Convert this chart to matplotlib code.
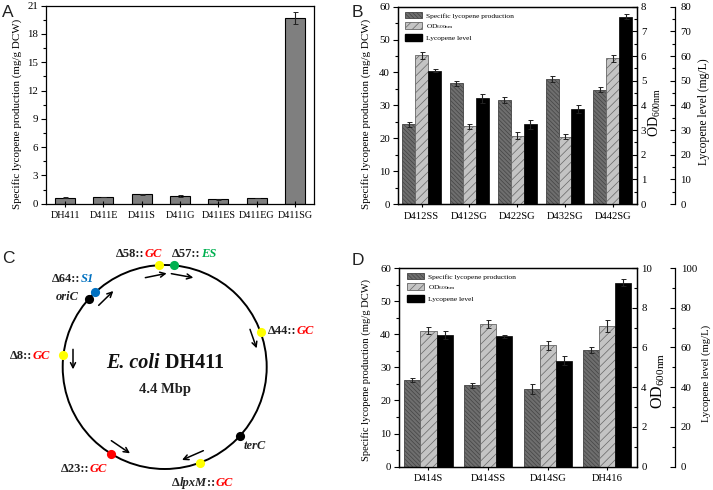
import numpy as np
import matplotlib
matplotlib.use('Agg')
import matplotlib.pyplot as plt
from matplotlib.patches import Patch, Circle
from matplotlib.ticker import MultipleLocator

plt.rcParams['font.family'] = ['Liberation Serif', 'DejaVu Serif']
plt.rcParams['mathtext.default'] = 'regular'
plt.rcParams['hatch.linewidth'] = 0.5

W, H = 713, 490

# panel A
a_names = ['DH411', 'D411E', 'D411S', 'D411G', 'D411ES', 'D411EG', 'D411SG']
a_spec = [0.65, 0.7, 1.0, 0.8, 0.45, 0.6, 19.7]
a_err = [0.08, 0.04, 0.05, 0.1, 0.04, 0.04, 0.65]

# panel B
b_names = ['D412SS', 'D412SG', 'D422SG', 'D432SG', 'D442SG']
b_spec = [24.2, 36.7, 31.7, 38.0, 34.8]
b_spec_err = [0.8, 0.7, 0.9, 1.0, 0.8]
b_od = [6.03, 3.15, 2.77, 2.73, 5.9]
b_od_err = [0.15, 0.09, 0.15, 0.1, 0.15]
b_lyc = [54.0, 42.8, 32.3, 38.5, 76.0]
b_lyc_err = [0.6, 1.8, 1.9, 1.6, 1.1]

# panel D
d_names = ['D414S', 'D414SS', 'D414SG', 'DH416']
d_spec = [26.2, 24.6, 23.6, 35.3]
d_spec_err = [0.5, 0.8, 1.5, 0.9]
d_od = [6.85, 7.2, 6.1, 7.1]
d_od_err = [0.17, 0.2, 0.22, 0.3]
d_lyc = [66.3, 65.7, 53.3, 92.5]
d_lyc_err = [2.2, 0.8, 2.2, 1.8]

# panel C
genome_sites = [('yellow', -3), ('#00b050', 5), ('black', -48), ('#0070c0', -43),
                ('yellow', -83), ('red', -148), ('yellow', 159.5), ('black', 132.6),
                ('yellow', 70)]
site_labels = [(116, 257, [('\u039458::', 'k'), ('GC', 'red')]),
               (172, 257, [('\u039457::', 'k'), ('ES', '#00b050')]),
               (52, 282, [('\u039464::', 'k'), ('S1', '#0070c0')]),
               (10, 359, [('\u03948::', 'k'), ('GC', 'red')]),
               (268, 334, [('\u039444::', 'k'), ('GC', 'red')]),
               (61, 472, [('\u039423::', 'k'), ('GC', 'red')]),
               (172, 486, [('\u0394', 'k'), ('lpxM', 'i'), ('::', 'k'), ('GC', 'red')])]
arrows = [(296, 196, 340, 153), (436, 113, 500, 100), (514, 101, 580, 113), (750, 268, 770, 325),
          (219, 328, 219, 388), (334, 602, 390, 640), (610, 632, 546, 660)]


def make_ax(left, right, top, bottom):
    ax = fig.add_axes([left / W, 1 - bottom / H, (right - left) / W, (bottom - top) / H])
    ax.box_px = (left, right, top, bottom)
    return ax


def place_label(ax, owner, text, size, xpx, ypx):
    # ylabel centre given in picture pixels
    left, right, top, bottom = owner.box_px
    ax.set_ylabel(text, fontsize=size, va='center', ha='center', rotation=90)
    ax.yaxis.set_label_coords((xpx - left) / (right - left), (bottom - ypx) / (bottom - top))


def style(ax, ymax, major, minor, direction='out', pad=2):
    ax.set_ylim(0, ymax)
    ax.yaxis.set_major_locator(MultipleLocator(major))
    ax.yaxis.set_minor_locator(MultipleLocator(minor))
    ax.tick_params(axis='y', which='major', length=3.5, width=0.8, labelsize=7.8, pad=pad, direction=direction)
    ax.tick_params(axis='y', which='minor', length=2, width=0.8, direction=direction)
    ax.tick_params(axis='x', which='major', length=5, width=0.8, labelsize=7.6, pad=3, direction='inout')
    for s in ax.spines.values():
        s.set_linewidth(0.9)


def triple(ax, names, spec, spec_err, od, od_err, lyc, lyc_err, od_max, od_step, lyc_max, lyc_step,
           labels, legend_at):
    x = np.arange(1, len(names) + 1)
    w = 0.27
    eb = dict(ecolor='#222222', elinewidth=0.8, capsize=1.8, capthick=0.7)
    ax.bar(x - w, spec, w, yerr=spec_err, color='#6e6e6e', edgecolor='#444444', hatch='\\\\\\\\\\\\\\\\',
           linewidth=0.6, error_kw=eb)
    ax.set_xlim(0.5, len(names) + 0.5)
    ax.set_xticks(x)
    ax.set_xticklabels(names)
    style(ax, 60, 10, 5)
    place_label(ax, ax, 'Specific lycopene production (mg/g DCW)', *labels[0])

    ax2 = ax.twinx()
    ax2.bar(x, od, w, yerr=od_err, color='#c4c4c4', edgecolor='#666666', hatch='////', linewidth=0.6, error_kw=eb)
    style(ax2, od_max, od_step, od_step / 2, direction='in', pad=3)
    ax2.tick_params(axis='x', which='both', length=0)
    place_label(ax2, ax, 'OD$_{600nm}$', *labels[1])

    ax3 = ax.twinx()
    ax3.spines['right'].set_position(('outward', 27.5))
    for s in ['top', 'left', 'bottom']:
        ax3.spines[s].set_visible(False)
    ax3.bar(x + w, lyc, w, yerr=lyc_err, color='black', edgecolor='black', linewidth=0.5, error_kw=eb)
    style(ax3, lyc_max, lyc_step, lyc_step / 2, direction='in', pad=4)
    ax3.tick_params(axis='x', which='both', length=0)
    place_label(ax3, ax, 'Lycopene level (mg/L)', *labels[2])

    handles = [Patch(facecolor='#6e6e6e', edgecolor='#444444', hatch='\\\\\\\\\\\\\\\\', linewidth=0.6),
               Patch(facecolor='#c4c4c4', edgecolor='#666666', hatch='////', linewidth=0.6),
               Patch(facecolor='black', edgecolor='black')]
    ax3.legend(handles, ['Specific lycopene production', 'OD$_{600nm}$', 'Lycopene level'],
               loc='upper left', bbox_to_anchor=legend_at, frameon=False, fontsize=5.4,
               handlelength=2.3, handleheight=0.9, handletextpad=0.5, labelspacing=0.45, borderpad=0, borderaxespad=0)


fig = plt.figure(figsize=(W / 100, H / 100), dpi=100)

# A
ax_a = make_ax(46, 314, 5.7, 203.7)
xa = np.arange(1, len(a_names) + 1)
ax_a.bar(xa, a_spec, 0.52, yerr=a_err, color='#7f7f7f', edgecolor='black', linewidth=0.8,
         error_kw=dict(ecolor='#222222', elinewidth=0.8, capsize=1.8, capthick=0.7))
ax_a.set_xlim(0.5, 7.5)
ax_a.set_xticks(xa)
ax_a.set_xticklabels(a_names)
style(ax_a, 21, 3, 1.5)
ax_a.tick_params(axis='x', labelsize=7.3)
place_label(ax_a, ax_a, 'Specific lycopene production (mg/g DCW)', 7.9, 17, 114)

# B and D
ax_b = make_ax(397.7, 636.7, 6.7, 204)
triple(ax_b, b_names, b_spec, b_spec_err, b_od, b_od_err, b_lyc, b_lyc_err, 8, 1, 80, 10,
       [(7.9, 366, 114), (10, 655, 112), (8.4, 704, 112)], (0.03, 0.973))
ax_d = make_ax(398.7, 637, 268, 466.7)
triple(ax_d, d_names, d_spec, d_spec_err, d_od, d_od_err, d_lyc, d_lyc_err, 10, 2, 100, 20,
       [(7.6, 366, 369.5), (11.5, 658, 381), (7.7, 706, 373)], (0.035, 0.975))

# C, drawn in pixel coordinates on a full-figure overlay
ov = fig.add_axes([0, 0, 1, 1], zorder=20)
ov.set_xlim(0, W)
ov.set_ylim(H, 0)
ov.axis('off')
cx, cy, r = 164.7, 367, 102
ov.add_patch(Circle((cx, cy), r, fill=False, edgecolor='black', linewidth=1.4))
for col, ang in genome_sites:
    t = np.radians(ang)
    ov.plot(cx + r * np.sin(t), cy - r * np.cos(t), 'o', color=col, markersize=6.6, markeredgewidth=0)
for x0, y0, x1, y1 in arrows:
    ov.annotate('', xy=(x1 / 3, 240 + y1 / 3), xytext=(x0 / 3, 240 + y0 / 3),
                arrowprops=dict(arrowstyle='->', color='black', lw=1.1, mutation_scale=9, shrinkA=0, shrinkB=0))

for x, y, parts in site_labels:
    prev = None
    for txt, kind in parts:
        color = '#222222' if kind in ('k', 'i') else kind
        slant = 'normal' if kind == 'k' else 'italic'
        if prev is None:
            prev = ov.text(x, y, txt, fontsize=9, fontweight='bold', color=color, style=slant, va='baseline')
        else:
            prev = ov.annotate(txt, xy=(1, 0), xycoords=prev, fontsize=9, fontweight='bold', color=color,
                               style=slant, va='bottom')
ov.text(56, 300, 'oriC', fontsize=9, style='italic', fontweight='bold', color='#222222')
ov.text(244, 449, 'terC', fontsize=9, style='italic', fontweight='bold', color='#222222')
e = ov.text(106, 368, 'E. coli', fontsize=14.5, style='italic', fontweight='bold', color='#111111')
ov.annotate(' DH411', xy=(1, 0), xycoords=e, fontsize=14.5, fontweight='bold', va='bottom', color='#111111')
ov.text(165, 393, '4.4 Mbp', fontsize=10.5, fontweight='bold', ha='center', color='#222222')

for letter, x, y in [('A', 2, 17), ('B', 352, 17), ('C', 2, 263), ('D', 352, 265)]:
    ov.text(x, y, letter, fontsize=12.5, family='Liberation Sans', color='#222222')

fig.savefig('out.png', dpi=100)
